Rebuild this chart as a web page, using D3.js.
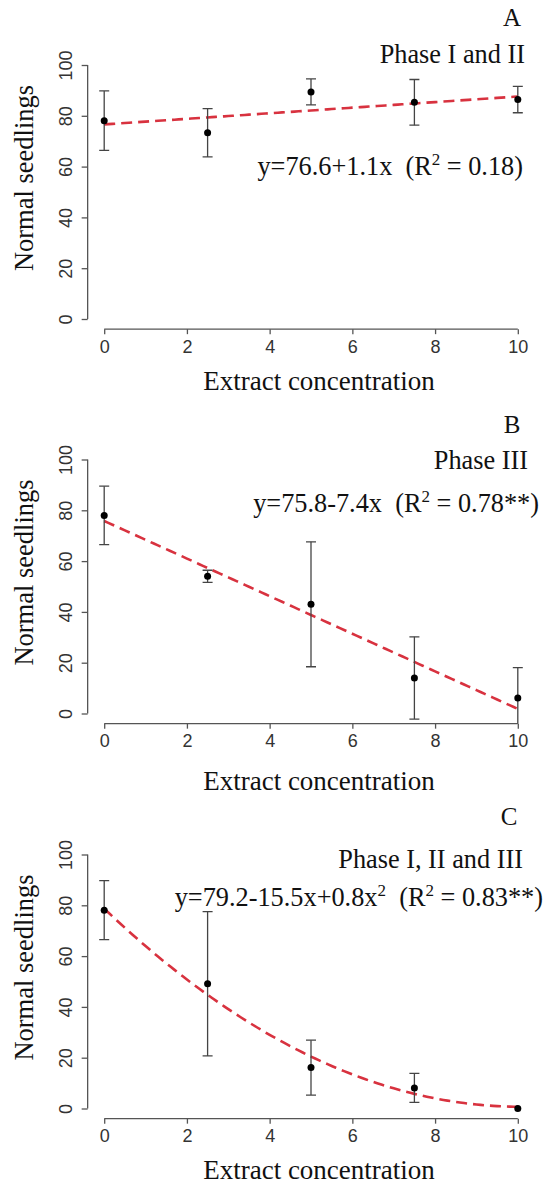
<!DOCTYPE html>
<html>
<head>
<meta charset="utf-8">
<script src="https://cdn.jsdelivr.net/npm/d3@7"></script>
<style>
  html, body { margin: 0; padding: 0; background: #fff; }
  svg { display: block; }
  text { white-space: pre; }
</style>
</head>
<body>
<div id="chart"></div>
<script>
// data
const concentration = [0, 2.5, 5, 7.5, 10];
const xTicks = [0, 2, 4, 6, 8, 10];
const yTicks = [0, 20, 40, 60, 80, 100];

const meanA = [78.1, 73.3, 89.4, 85.3, 86.4];
const sdA = [11.7, 9.5, 5.1, 9.0, 5.2];
const fitA = [76.6, 1.1, 0];

const meanB = [78, 54, 43, 14, 6.1];
const sdB = [11.5, 2.4, 24.6, 16.2, 12];
const fitB = [75.8, -7.4, 0];

const meanC = [78.1, 49.1, 16.1, 8.1, 0];
const sdC = [11.6, 28.4, 10.8, 5.7, 0];
const fitC = [78.7, -15.5, 0.77];

const panelLetters = ["A", "B", "C"];
const phaseLabels = ["Phase I and II", "Phase III", "Phase I, II and III"];
const equations = [
  [["y=76.6+1.1x  (R", 0], ["2", 1], [" = 0.18)", 0]],
  [["y=75.8-7.4x  (R", 0], ["2", 1], [" = 0.78**)", 0]],
  [["y=79.2-15.5x+0.8x", 0], ["2", 1], ["  (R", 0], ["2", 1], [" = 0.83**)", 0]]
];

const panels = [
  { mean: meanA, sd: sdA, fit: fitA, top: 65,
    letterY: 26, letterX: 512, phaseY: 63, phaseX: 525, eqY: 175, eqX: 523, titleY: 390 },
  { mean: meanB, sd: sdB, fit: fitB, top: 459.5,
    letterY: 433, letterX: 512, phaseY: 469, phaseX: 528, eqY: 512, eqX: 539, titleY: 790 },
  { mean: meanC, sd: sdC, fit: fitC, top: 854.5,
    letterY: 825, letterX: 509, phaseY: 868, phaseX: 523, eqY: 906, eqX: 543, titleY: 1179 }
];

const W = 546, H = 1184;
const plotH = 254;
const serif = "'Liberation Serif', 'Times New Roman', serif";
const sans = "'Liberation Sans', Arial, sans-serif";

const svg = d3.select("#chart").append("svg")
  .attr("width", W).attr("height", H);
svg.append("rect").attr("width", W).attr("height", H).attr("fill", "#fff");

const x = d3.scaleLinear().domain([0, 10]).range([104.2, 517.8]);

panels.forEach(function(p, i) {
  const y = d3.scaleLinear().domain([0, 100]).range([p.top + plotH, p.top]);
  const g = svg.append("g");

  // clip to R-style plot region (4% padding)
  const clipId = "clip" + i;
  g.append("clipPath").attr("id", clipId).append("rect")
    .attr("x", x(-0.4)).attr("y", y(104))
    .attr("width", x(10.4) - x(-0.4)).attr("height", y(-4) - y(104));

  // y axis
  const yAx = g.append("g").attr("transform", `translate(${x(-0.4)},0)`)
    .call(d3.axisLeft(y).tickValues(yTicks).tickSize(6).tickPadding(4).tickSizeOuter(0));
  yAx.select(".domain").attr("stroke", "#555").attr("stroke-width", 1.3)
    .attr("d", `M0,${y(0)}V${y(100)}`);
  yAx.selectAll(".tick line").attr("stroke", "#555").attr("stroke-width", 1.3);
  yAx.selectAll(".tick text")
    .attr("transform", "rotate(-90)")
    .attr("x", 0).attr("y", -16).attr("dy", 0)
    .attr("text-anchor", "middle")
    .attr("font-family", sans).attr("font-size", 18).attr("fill", "#333");

  // x axis
  const xAx = g.append("g").attr("transform", `translate(0,${y(-4)})`)
    .call(d3.axisBottom(x).tickValues(xTicks).tickSize(5).tickPadding(6).tickSizeOuter(0));
  xAx.select(".domain").attr("stroke", "#555").attr("stroke-width", 1.3)
    .attr("d", `M${x(0)},0H${x(10)}`);
  xAx.selectAll(".tick line").attr("stroke", "#555").attr("stroke-width", 1.3);
  xAx.selectAll(".tick text")
    .attr("font-family", sans).attr("font-size", 18).attr("fill", "#333");

  const plot = g.append("g").attr("clip-path", `url(#${clipId})`);

  // fitted curve
  const xs = d3.range(0, 10.001, 0.1);
  const f = p.fit;
  plot.append("path")
    .datum(xs)
    .attr("d", d3.line().x(d => x(d)).y(d => y(f[0] + f[1] * d + f[2] * d * d)))
    .attr("fill", "none").attr("stroke", "#d8323f").attr("stroke-width", 2.6)
    .attr("stroke-dasharray", "11,6");

  const pts = concentration.map((c, k) => ({ c: c, m: p.mean[k], s: p.sd[k] }));

  // error bars
  const eb = plot.selectAll(".eb").data(pts.filter(d => d.s > 0)).enter().append("g")
    .attr("stroke", "#444").attr("stroke-width", 1.3);
  eb.append("line")
    .attr("x1", d => x(d.c)).attr("x2", d => x(d.c))
    .attr("y1", d => y(d.m - d.s)).attr("y2", d => y(d.m + d.s));
  eb.append("line")
    .attr("x1", d => x(d.c) - 5).attr("x2", d => x(d.c) + 5)
    .attr("y1", d => y(d.m + d.s)).attr("y2", d => y(d.m + d.s));
  eb.append("line")
    .attr("x1", d => x(d.c) - 5).attr("x2", d => x(d.c) + 5)
    .attr("y1", d => y(d.m - d.s)).attr("y2", d => y(d.m - d.s));

  // points
  plot.selectAll(".pt").data(pts).enter().append("circle")
    .attr("cx", d => x(d.c)).attr("cy", d => y(d.m)).attr("r", 3.5)
    .attr("fill", "#000");

  // axis titles
  g.append("text")
    .attr("x", 319).attr("y", p.titleY)
    .attr("text-anchor", "middle")
    .attr("font-family", serif).attr("font-size", 27).attr("fill", "#111")
    .text("Extract concentration");
  g.append("text")
    .attr("transform", `translate(33,${p.top + 113}) rotate(-90)`)
    .attr("text-anchor", "middle")
    .attr("font-family", serif).attr("font-size", 26.5).attr("fill", "#111")
    .text("Normal seedlings");

  // annotations
  g.append("text")
    .attr("x", p.letterX).attr("y", p.letterY)
    .attr("text-anchor", "middle")
    .attr("font-family", serif).attr("font-size", 25).attr("fill", "#111")
    .text(panelLetters[i]);
  g.append("text")
    .attr("x", p.phaseX).attr("y", p.phaseY)
    .attr("text-anchor", "end")
    .attr("font-family", serif).attr("font-size", 26.3).attr("fill", "#111")
    .text(phaseLabels[i]);
  const eq = g.append("text")
    .attr("x", p.eqX).attr("y", p.eqY)
    .attr("text-anchor", "end")
    .attr("font-family", serif).attr("font-size", 26.3).attr("fill", "#111");
  equations[i].forEach(function(part, k) {
    const t = eq.append("tspan").text(part[0]);
    if (part[1]) {
      t.attr("font-size", 17).attr("dy", -10);
    } else {
      t.attr("dy", k > 0 ? 10 : 0);
    }
  });
});
</script>
</body>
</html>
